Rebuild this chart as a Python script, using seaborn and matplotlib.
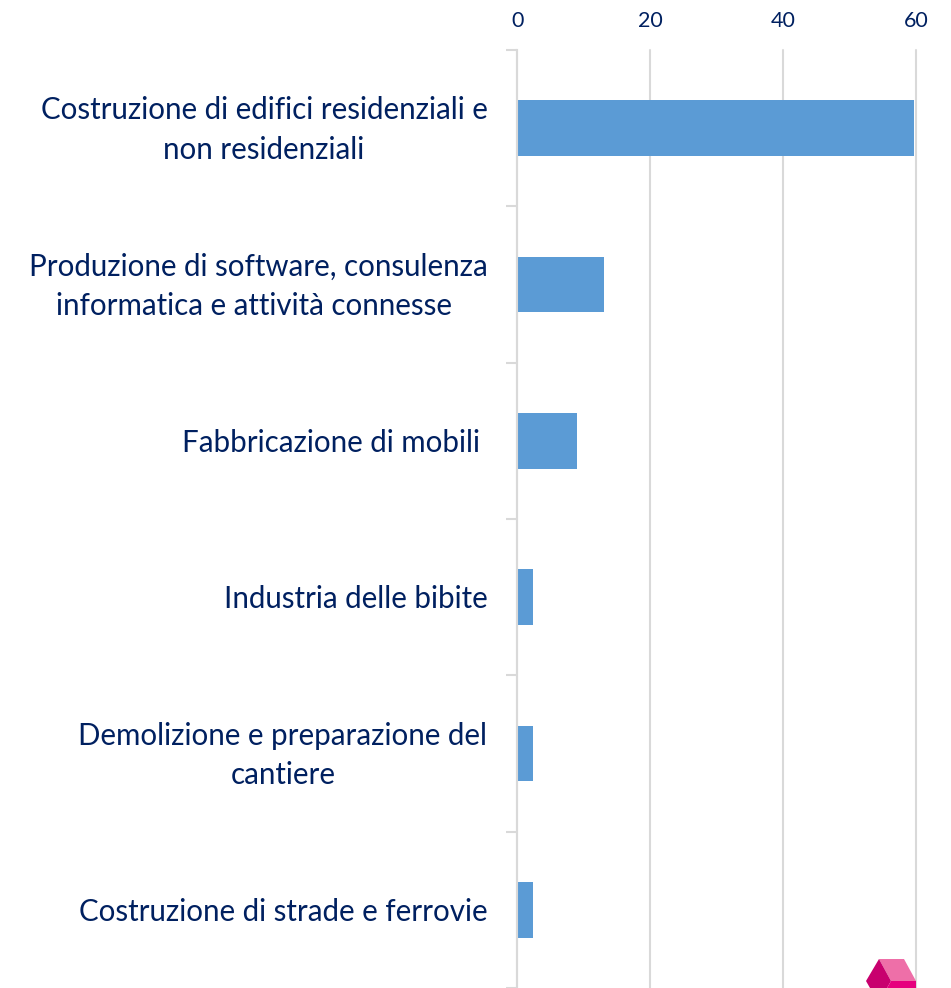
import matplotlib
matplotlib.use('Agg')
import matplotlib.pyplot as plt
import seaborn as sns
import pandas as pd
from matplotlib.patches import Polygon

categories = ['Costruzione di edifici residenziali e\nnon residenziali',
              'Produzione di software, consulenza\ninformatica e attività connesse ',
              'Fabbricazione di mobili ',
              'Industria delle bibite',
              'Demolizione e preparazione del\ncantiere',
              'Costruzione di strade e ferrovie']
values = [59.6, 13.0, 8.9, 2.4, 2.4, 2.3]
x_ticks = [0, 20, 40, 60]

sns.set_theme(style='white')
plt.rcParams['font.family'] = ['Lato', 'DejaVu Sans']

df = pd.DataFrame({'cat': categories, 'val': values})
fig = plt.figure(figsize=(9.51, 9.88), dpi=100)
ax = fig.add_axes([517.4/951, 0, (916.4-517.4)/951, 938/988])
sns.barplot(data=df, y='cat', x='val', color='#5B9BD5', saturation=1, width=0.355, linewidth=0, ax=ax)
ax.set_xlim(0, 60)
ax.set_ylim(5.5, -0.5)
ax.set_xlabel('')
ax.set_ylabel('')
ax.xaxis.tick_top()
ax.set_xticks(x_ticks)
ax.grid(axis='x', color='#D9D9D9', lw=1.5)
ax.set_axisbelow(True)
for line in ax.get_xgridlines():
    line.set_clip_on(False)
for s in ['top', 'right', 'bottom']:
    ax.spines[s].set_visible(False)
ax.spines['left'].set_color('#D9D9D9')
ax.spines['left'].set_linewidth(1.5)
ax.tick_params(axis='x', length=0, pad=14, labelsize=15.5, labelcolor='#002060')

# separators between the bars are the y ticks
ax.set_yticks([i - 0.5 for i in range(7)])
ax.set_yticklabels([])
ax.tick_params(axis='y', left=True, length=8, color='#D9D9D9', width=1.5)
for i, c in enumerate(categories):
    ax.annotate(c, (0, i), xycoords='data', xytext=(-30, -2), textcoords='offset pixels',
                ha='right', va='center', fontsize=21.25, color='#002060',
                multialignment='center', linespacing=1.5)


def logo(points, color):
    fig.add_artist(Polygon([(x / 951, 1 - y / 988) for x, y in points], closed=True,
                           transform=fig.transFigure, color=color, lw=0))


# logo at the bottom right
logo([(879, 959), (904, 959), (916, 981), (891, 981)], '#EE6FA8')
logo([(866, 981), (879, 959), (891, 981), (887, 988), (870, 988)], '#C8006E')
logo([(891, 981), (916, 981), (916, 988), (887, 988)], '#E6007E')

fig.savefig('out.png', dpi=100)
